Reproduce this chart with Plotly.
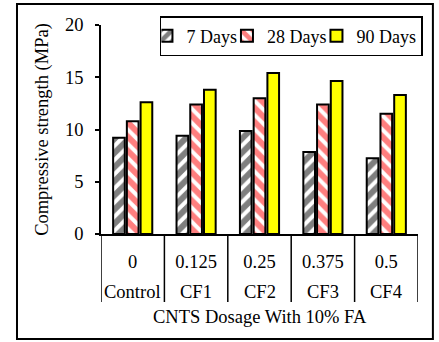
import plotly.graph_objects as go

mixes = ["Control", "CF1", "CF2", "CF3", "CF4"]
dosages = ["0", "0.125", "0.25", "0.375", "0.5"]
days7 = [9.2, 9.4, 9.85, 7.85, 7.25]
days28 = [10.8, 12.4, 13.0, 12.4, 11.5]
days90 = [12.6, 13.8, 15.4, 14.65, 13.3]

FONT = "Liberation Serif"
FS = 18.5

fig = go.Figure()
fig.add_trace(go.Bar(
    name="7 Days", x=mixes, y=days7,
    marker=dict(color="white", line=dict(color="black", width=2),
                pattern=dict(shape="/", fgcolor="black", bgcolor="white", size=10, solidity=0.6)),
))
fig.add_trace(go.Bar(
    name="28 Days", x=mixes, y=days28,
    marker=dict(color="white", line=dict(color="black", width=2),
                pattern=dict(shape="\\", fgcolor="#FF0000", bgcolor="white", size=10, solidity=0.6)),
))
fig.add_trace(go.Bar(
    name="90 Days", x=mixes, y=days90,
    marker=dict(color="#FFFF00", line=dict(color="black", width=2)),
))

# plot area in px: x 101..418, y 25..234
PH = 209.0
def py(px):
    return (234 - px) / PH

shapes = [dict(type="rect", xref="paper", yref="paper", x0=-0.265, x1=1.047, y0=-0.502, y1=1.100,
               line=dict(color="black", width=2), fillcolor="rgba(0,0,0,0)")]
for i in range(len(mixes) + 1):
    shapes.append(dict(type="line", xref="x", yref="paper", x0=i - 0.5, x1=i - 0.5,
                       y0=0, y1=py(302), line=dict(color="black", width=1.5)))

annotations = []
for m in mixes:
    annotations.append(dict(x=m, xref="x", y=py(292), yref="paper", text=m, showarrow=False,
                            font=dict(family=FONT, size=FS), xanchor="center", yanchor="middle"))
annotations.append(dict(x=0.5, xref="paper", y=py(317), yref="paper", text="CNTS Dosage With 10% FA",
                        showarrow=False, font=dict(family=FONT, size=FS), xanchor="center", yanchor="middle"))

fig.update_layout(
    width=439, height=342,
    margin=dict(l=101, r=21, t=25, b=108, autoexpand=False),
    paper_bgcolor="white", plot_bgcolor="white",
    font=dict(family=FONT, size=FS, color="black"),
    barmode="group", bargap=0.35, bargroupgap=0.15,
    showlegend=True,
    legend=dict(orientation="h", x=0.186, y=py(16), xanchor="left", yanchor="top",
                bordercolor="black", borderwidth=1.5, bgcolor="white",
                font=dict(family=FONT, size=18), itemwidth=30, indentation=-15, tracegroupgap=0),
    xaxis=dict(type="category", tickmode="array", tickvals=mixes, ticktext=dosages,
               range=[-0.5, len(mixes) - 0.5],
               showline=True, linecolor="black", linewidth=1.5, showgrid=False, ticks="",
               ticklabelstandoff=10, tickfont=dict(family=FONT, size=FS)),
    yaxis=dict(range=[0, 20], dtick=5, showline=True, linecolor="black", linewidth=1.5,
               ticks="outside", ticklen=4, tickwidth=1.5, tickcolor="black", showgrid=False,
               zeroline=False, ticklabelstandoff=8, tickfont=dict(family=FONT, size=FS),
               title=dict(text="Compressive strength (MPa)", font=dict(family=FONT, size=FS), standoff=12)),
    shapes=shapes,
    annotations=annotations,
)

fig.write_html("out.html")
